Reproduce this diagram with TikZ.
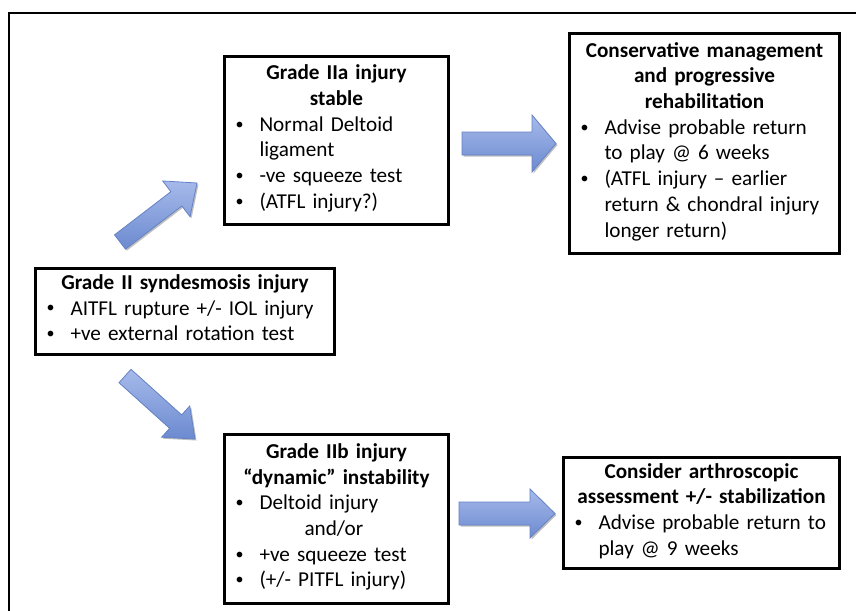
\documentclass[tikz,border=0pt]{standalone}
\usepackage{fontspec}
\setmainfont{Carlito}
\usetikzlibrary{calc,shadows}
\setlength{\parskip}{0pt}
\definecolor{arrlight}{HTML}{A6BAEA}
\definecolor{arrdark}{HTML}{6C8AD0}
\definecolor{arredge}{HTML}{6682C6}
\newlength{\bulx}\setlength{\bulx}{3pt}
\newlength{\bulw}\setlength{\bulw}{24pt}
% centred bold heading of a box
\newcommand{\boxtitle}[1]{{\centering\bfseries #1\par}}
% bulleted entry; continuation lines line up under the text
\newcommand{\bitem}[1]{\par\noindent\hspace*{\bulx}%
  \makebox[\bulw][l]{\raisebox{0.1em}{\fontsize{16}{16}\selectfont\textbullet}}%
  \parbox[t]{\dimexpr\hsize-\bulx-\bulw\relax}{\raggedright #1\strut}\par
  \prevdepth=\dp\strutbox}
% block arrow from tail #1 to tip #2: half shaft width #3, half head width #4, head length #5
\newcommand{\blockarrow}[5]{%
  \coordinate (#1-base) at ($(#2)!#5!(#1)$);
  \path[blockarr]
    ($(#1)!#3!90:(#2)$) -- ($(#1-base)!#3!90:(#2)$) -- ($(#1-base)!#4!90:(#2)$)
    -- (#2) -- ($(#1-base)!#4!-90:(#2)$) -- ($(#1-base)!#3!-90:(#2)$)
    -- ($(#1)!#3!-90:(#2)$) -- cycle;
}
\tikzset{
  stepbox/.style={draw=black, line width=3pt, fill=white, anchor=north west,
    inner xsep=8pt, inner ysep=0pt, font=\fontsize{21.2}{25.7}\selectfont,
    drop shadow={shadow xshift=1.5pt, shadow yshift=-1.5pt, opacity=0.3, fill=black}},
  blockarr/.style={draw=arredge, line width=0.8pt, line join=miter,
    top color=arrlight, bottom color=arrdark,
    drop shadow={shadow xshift=1.5pt, shadow yshift=-1.5pt, opacity=0.25, fill=black}},
  frame/.style={draw=black, line width=2pt},
}
\begin{document}
\begin{tikzpicture}[x=1pt, y=-1pt]
\useasboundingbox (0,0) rectangle (856,610);
\fill[white] (0,0) rectangle (856,610);
% open outer frame
\draw[frame] (9,612) -- (9,13) -- (858,13);

\node[stepbox, minimum width=224, minimum height=168, text width=208] (gIIa) at (223,55) {%
  \boxtitle{Grade IIa injury\\stable}
  \bitem{Normal Deltoid\\ligament}
  \bitem{-ve squeeze test}
  \bitem{(ATFL injury?)}};

\node[stepbox, minimum width=270, minimum height=220, text width=254] (cons) at (568,32) {%
  \boxtitle{Conservative management\\and progressive\\rehabilitation}
  \bitem{Advise probable return\\to play @ 6 weeks}
  \bitem{(ATFL injury – earlier\\return \& chondral injury\\longer return)}};

\node[stepbox, minimum width=299, minimum height=86, text width=283] (gII) at (34,267) {%
  \boxtitle{Grade II syndesmosis injury}
  \bitem{AITFL rupture +/- IOL injury}
  \bitem{+ve external rotation test}};

\node[stepbox, minimum width=224, minimum height=169, text width=208] (gIIb) at (223,433) {%
  \boxtitle{Grade IIb injury\\“dynamic” instability}
  \bitem{Deltoid injury\\\hspace*{45pt}and/or}
  \bitem{+ve squeeze test}
  \bitem{(+/- PITFL injury)}};

\node[stepbox, minimum width=276, minimum height=111, text width=260] (arth) at (562,456) {%
  \boxtitle{Consider arthroscopic\\assessment +/- stabilization}
  \bitem{Advise probable return to\\play @ 9 weeks}};

% arrow end points between the boxes
\coordinate (upT) at (120,242);
\coordinate (upH) at (197,183);
\coordinate (dnT) at (125,376);
\coordinate (dnH) at (195,439);
\coordinate (r1T) at (462,143.5);
\coordinate (r1H) at (556,143.5);
\coordinate (r2T) at (459,513.5);
\coordinate (r2H) at (555,513.5);

\blockarrow{upT}{upH}{9pt}{22.5pt}{26pt}
\blockarrow{dnT}{dnH}{9pt}{21pt}{26pt}
\blockarrow{r1T}{r1H}{11.5pt}{28.5pt}{24pt}
\blockarrow{r2T}{r2H}{11.5pt}{24.5pt}{25pt}
\end{tikzpicture}
\end{document}
